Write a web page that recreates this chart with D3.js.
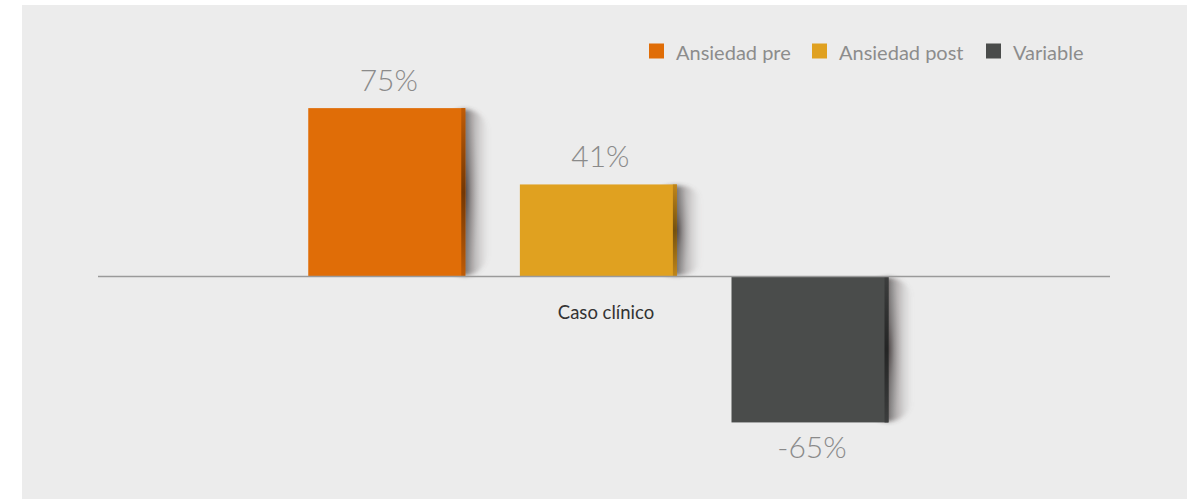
<!DOCTYPE html>
<html>
<head>
<meta charset="utf-8">
<script src="https://cdn.jsdelivr.net/npm/d3@7"></script>
<style>
  html, body { margin: 0; padding: 0; background: #ffffff; }
  svg { display: block; }
</style>
</head>
<body>
<svg id="chart" width="1198" height="499"></svg>
<script>
// Chart data
const categories = ["Caso clínico"];
const seriesNames = ["Ansiedad pre", "Ansiedad post", "Variable"];
const seriesValues = [75, 41, -65];
const seriesColors = ["#e06d07", "#e0a120", "#4a4c4b"];
const edgeColors = ["#c05c06", "#c0861a", "#3c3d3d"];

const svg = d3.select("#chart");

// Panel background
svg.append("rect")
  .attr("x", 22).attr("y", 5)
  .attr("width", 1165).attr("height", 494)
  .attr("fill", "#ececec");

const defs = svg.append("defs");

// Horizontal falloff for the shadow beside each bar (left half sits under the bar)
const hg = defs.append("linearGradient").attr("id", "sideShade")
  .attr("x1", 0).attr("y1", 0).attr("x2", 1).attr("y2", 0);
hg.append("stop").attr("offset", "0%").attr("stop-color", "#3a3232").attr("stop-opacity", 0.65);
hg.append("stop").attr("offset", "50%").attr("stop-color", "#3a3232").attr("stop-opacity", 0.65);
hg.append("stop").attr("offset", "62%").attr("stop-color", "#4a4242").attr("stop-opacity", 0.42);
hg.append("stop").attr("offset", "80%").attr("stop-color", "#6a6262").attr("stop-opacity", 0.2);
hg.append("stop").attr("offset", "100%").attr("stop-color", "#808080").attr("stop-opacity", 0);

// Elliptical core, darkest at mid-height
const rg = defs.append("radialGradient").attr("id", "coreShade");
rg.append("stop").attr("offset", "0%").attr("stop-color", "#2a1e1e").attr("stop-opacity", 0.5);
rg.append("stop").attr("offset", "40%").attr("stop-color", "#3a3030").attr("stop-opacity", 0.18);
rg.append("stop").attr("offset", "100%").attr("stop-color", "#808080").attr("stop-opacity", 0);

defs.append("filter").attr("id", "soft")
  .attr("x", "-50%").attr("y", "-20%").attr("width", "200%").attr("height", "140%")
  .append("feGaussianBlur").attr("stdDeviation", 2);

// Vertical darkening along the bar's right edge
const lg = defs.append("linearGradient").attr("id", "edgeShade")
  .attr("x1", 0).attr("y1", 0).attr("x2", 0).attr("y2", 1);
lg.append("stop").attr("offset", "0%").attr("stop-color", "#000").attr("stop-opacity", 0);
lg.append("stop").attr("offset", "50%").attr("stop-color", "#000").attr("stop-opacity", 0.4);
lg.append("stop").attr("offset", "100%").attr("stop-color", "#000").attr("stop-opacity", 0);

// Scales
const plotLeft = 98, plotRight = 1110;
const y = d3.scaleLinear().domain([-80, 80]).range([276.5 + 80 * 2.245, 276.5 - 80 * 2.245]);

const x0 = d3.scaleBand().domain(categories).range([plotLeft, plotRight]).padding(0);
const x1 = d3.scaleBand().domain(seriesNames)
  .range([0, x0.bandwidth()])
  .paddingInner(0.258)
  .paddingOuter(1.02)
  .align(0.487);

const rows = seriesNames.map((name, i) => ({
  name, value: seriesValues[i], color: seriesColors[i], edge: edgeColors[i], cat: categories[0]
}));

const barX = d => x0(d.cat) + x1(d.name);
const barTop = d => Math.min(y(d.value), y(0));
const barH = d => Math.abs(y(d.value) - y(0));

const g = svg.append("g");

// Soft shadows to the right of each bar
const shadowHalf = 24;
g.selectAll("rect.shadow").data(rows).enter().append("rect")
  .attr("class", "shadow")
  .attr("x", d => barX(d) + x1.bandwidth() - shadowHalf)
  .attr("width", shadowHalf * 2)
  .attr("y", d => barTop(d) + 1)
  .attr("height", d => barH(d) - 2)
  .attr("rx", shadowHalf)
  .attr("ry", d => barH(d) * 0.16)
  .attr("fill", "url(#sideShade)")
  .attr("filter", "url(#soft)");
g.selectAll("ellipse.core").data(rows).enter().append("ellipse")
  .attr("class", "core")
  .attr("cx", d => barX(d) + x1.bandwidth())
  .attr("cy", d => barTop(d) + barH(d) / 2)
  .attr("rx", 14)
  .attr("ry", d => barH(d) / 2)
  .attr("fill", "url(#coreShade)");

// Bars
g.selectAll("rect.bar").data(rows).enter().append("rect")
  .attr("class", "bar")
  .attr("x", barX)
  .attr("width", x1.bandwidth())
  .attr("y", barTop)
  .attr("height", barH)
  .attr("fill", d => d.color);

// Darker right edge of bars
g.selectAll("rect.edge").data(rows).enter().append("rect")
  .attr("class", "edge")
  .attr("x", d => barX(d) + x1.bandwidth() - 4)
  .attr("width", 4)
  .attr("y", barTop)
  .attr("height", barH)
  .attr("fill", d => d.edge);
g.selectAll("rect.edgeShade").data(rows).enter().append("rect")
  .attr("class", "edgeShade")
  .attr("x", d => barX(d) + x1.bandwidth() - 4)
  .attr("width", 4)
  .attr("y", barTop)
  .attr("height", barH)
  .attr("fill", "url(#edgeShade)");

// Zero axis line
svg.append("line")
  .attr("x1", plotLeft).attr("x2", plotRight)
  .attr("y1", y(0)).attr("y2", y(0))
  .attr("stroke", "#9a9a9a").attr("stroke-width", 1.5);

// Category label
svg.selectAll("text.cat").data(categories).enter().append("text")
  .attr("class", "cat")
  .attr("x", d => x0(d) + x0.bandwidth() / 2 + 2)
  .attr("y", 319)
  .attr("text-anchor", "middle")
  .attr("font-family", "Lato, 'Open Sans', sans-serif")
  .attr("font-size", 18.5)
  .attr("fill", "#333333")
  .text(d => d);

// Value labels
g.selectAll("text.val").data(rows).enter().append("text")
  .attr("class", "val")
  .attr("x", d => barX(d) + x1.bandwidth() / 2 + 2)
  .attr("y", d => d.value >= 0 ? y(d.value) - 17 : y(d.value) + 36)
  .attr("text-anchor", "middle")
  .attr("font-family", "Lato, 'Open Sans', sans-serif")
  .attr("font-weight", 300)
  .attr("font-size", 30)
  .attr("fill", "#8a8a8a")
  .text(d => d.value + "%");

// Legend
const legendX = [649, 812, 986];
const legend = svg.append("g");
const items = legend.selectAll("g").data(rows).enter().append("g")
  .attr("transform", (d, i) => `translate(${legendX[i]},43.5)`);
items.append("rect").attr("width", 15).attr("height", 15).attr("fill", d => d.color);
items.append("text")
  .attr("x", 27).attr("y", 16.5)
  .attr("font-family", "Lato, 'Open Sans', sans-serif")
  .attr("font-size", 20)
  .attr("fill", "#8c8c8c")
  .text(d => d.name);
</script>
</body>
</html>
